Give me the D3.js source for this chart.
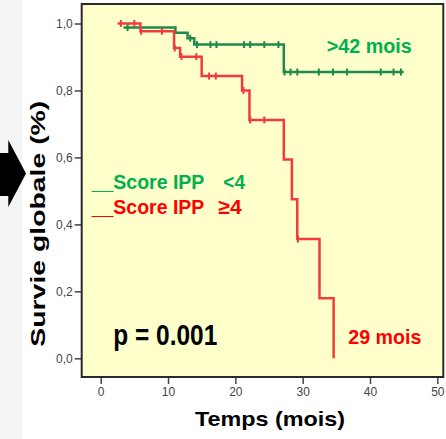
<!DOCTYPE html>
<html>
<head>
<meta charset="utf-8">
<script src="https://cdn.jsdelivr.net/npm/d3@7"></script>
<style>
  html, body { margin: 0; padding: 0; background: #ffffff; }
  svg { display: block; }
  text { font-family: "Liberation Sans", Arial, sans-serif; }
</style>
</head>
<body>
<svg id="chart" width="446" height="439"></svg>
<script>
// ---- Data ----
const xTicks = [0, 10, 20, 30, 40, 50];
const yTicks = [0, 0.2, 0.4, 0.6, 0.8, 1.0];

// Score IPP < 4 (green)
const greenTimes = [3.4, 11.1, 12.9, 13.9, 27.2];
const greenSurv  = [0.988, 0.972, 0.956, 0.937, 0.855];
const greenEnd   = 45.0;
const greenCensor = [4.0, 13.3, 14.3, 16.3, 17.2, 21.3, 22.2, 24.3, 26.4, 27.3, 28.2, 29.2, 32.4, 34.5, 36.6, 41.6, 43.5, 44.6];

// Score IPP >= 4 (red)
const redTimes = [2.5, 5.9, 10.9, 11.8, 15.0, 21.0, 22.1, 27.2, 28.4, 29.2, 32.5, 34.6];
const redSurv  = [1.0, 0.977, 0.927, 0.901, 0.843, 0.800, 0.712, 0.594, 0.475, 0.356, 0.179, 0.0];
const redEnd   = 34.6;
const redCensor = [3.0, 5.0, 6.0, 9.1, 11.0, 12.0, 14.2, 16.1, 17.1, 21.2, 22.2, 24.3, 29.3];

const seriesNames = ["Score IPP", "Score IPP"];
const seriesTags = ["<4", "\u22654"];
const medianLabels = [">42 mois", "29 mois"];
const pLabel = "p = 0.001";
const xTitle = "Temps (mois)";
const yTitle = "Survie globale (%)";

// ---- Layout ----
const svg = d3.select("#chart");
const frame = { left: 81.7, top: 4, right: 443.3, bottom: 377 };
const x = d3.scaleLinear().domain([0, 50]).range([100.7, 437.3]);
const y = d3.scaleLinear().domain([0, 1]).range([358.3, 23.5]);

const GREEN_LINE = "#1f8a4c", RED_LINE = "#f03c3c";
const GREEN_TEXT = "#00b050", RED_TEXT = "#ff0000";

// slide backdrop strip + arrow (decoration)
svg.append("rect").attr("x", 0).attr("y", 0).attr("width", 22).attr("height", 439).attr("fill", "#f4f4f4");
svg.append("path")
  .attr("d", "M0,153 L8.3,153 L8.3,140 L26,173.5 L8.3,207 L8.3,196 L0,196 Z")
  .attr("fill", "#000");

// plot background
svg.append("rect")
  .attr("x", frame.left).attr("y", frame.top)
  .attr("width", frame.right - frame.left).attr("height", frame.bottom - frame.top)
  .attr("fill", "#ffffcc");

// axes
const yAxis = svg.append("g")
  .attr("transform", `translate(${frame.left},0)`)
  .call(d3.axisLeft(y).tickValues(yTicks).tickSize(7).tickPadding(2)
        .tickFormat(d => d3.format(".1f")(d).replace(".", ",")));
const xAxis = svg.append("g")
  .attr("transform", `translate(0,${frame.bottom})`)
  .call(d3.axisBottom(x).tickValues(xTicks).tickSize(7).tickPadding(3).tickFormat(d3.format("d")));
[yAxis, xAxis].forEach(g => {
  g.select(".domain").remove();
  g.selectAll(".tick line").attr("stroke", "#444").attr("stroke-width", 1.5);
  g.selectAll(".tick text").attr("fill", "#444").style("font-size", "12px")
    .style("font-family", "'Liberation Sans', Arial, sans-serif");
});

// frame
svg.append("rect")
  .attr("x", frame.left).attr("y", frame.top)
  .attr("width", frame.right - frame.left).attr("height", frame.bottom - frame.top)
  .attr("fill", "none").attr("stroke", "#2a2a2a").attr("stroke-width", 2);

// KM curves
const line = d3.line().x(d => x(d[0])).y(d => y(d[1])).curve(d3.curveStepAfter);
function stepPoints(times, surv, end) {
  const pts = times.map((t, i) => [t, surv[i]]);
  if (end > times[times.length - 1]) pts.push([end, surv[surv.length - 1]]);
  return pts;
}
function survAt(times, surv, t) {
  let s = surv[0];
  for (let i = 0; i < times.length; i++) if (times[i] <= t) s = surv[i];
  return s;
}
function drawSeries(times, surv, end, censor, color) {
  svg.append("path").datum(stepPoints(times, surv, end))
    .attr("d", line).attr("fill", "none").attr("stroke", color)
    .attr("stroke-width", 2.5).attr("stroke-linejoin", "miter");
  svg.append("g").selectAll("line").data(censor).join("line")
    .attr("x1", d => x(d)).attr("x2", d => x(d))
    .attr("y1", d => y(survAt(times, surv, d)) - 3.5)
    .attr("y2", d => y(survAt(times, surv, d)) + 3.5)
    .attr("stroke", color).attr("stroke-width", 2);
}
drawSeries(greenTimes, greenSurv, greenEnd, greenCensor, GREEN_LINE);
drawSeries(redTimes, redSurv, redEnd, redCensor, RED_LINE);

// legend
function fitText(txt, xPos, yPos, size, len, color) {
  return svg.append("text").attr("x", xPos).attr("y", yPos)
    .attr("font-size", size).attr("font-weight", "bold").attr("fill", color)
    .attr("textLength", len).attr("lengthAdjust", "spacingAndGlyphs")
    .text(txt);
}
fitText("__" + seriesNames[0], 91.7, 189, 21, 112.6, GREEN_TEXT);
fitText(seriesTags[0], 223.3, 189, 21, 21.7, GREEN_TEXT);
fitText("__" + seriesNames[1], 91.7, 214, 21, 112.6, RED_TEXT);
fitText(seriesTags[1], 218.3, 214, 21, 23.4, RED_TEXT);

// annotations
fitText(medianLabels[0], 326.7, 53, 20, 85, GREEN_TEXT);
fitText(medianLabels[1], 348.3, 344, 21, 73, RED_TEXT);
fitText(pLabel, 113.3, 345, 29, 104, "#000");

// axis titles
fitText(xTitle, 195, 426, 21, 150, "#000");
svg.append("text")
  .attr("transform", "translate(45,346.7) rotate(-90)")
  .attr("x", 0).attr("y", 0)
  .attr("font-size", 21).attr("font-weight", "bold").attr("fill", "#000")
  .attr("textLength", 246).attr("lengthAdjust", "spacingAndGlyphs")
  .text(yTitle);
</script>
</body>
</html>
